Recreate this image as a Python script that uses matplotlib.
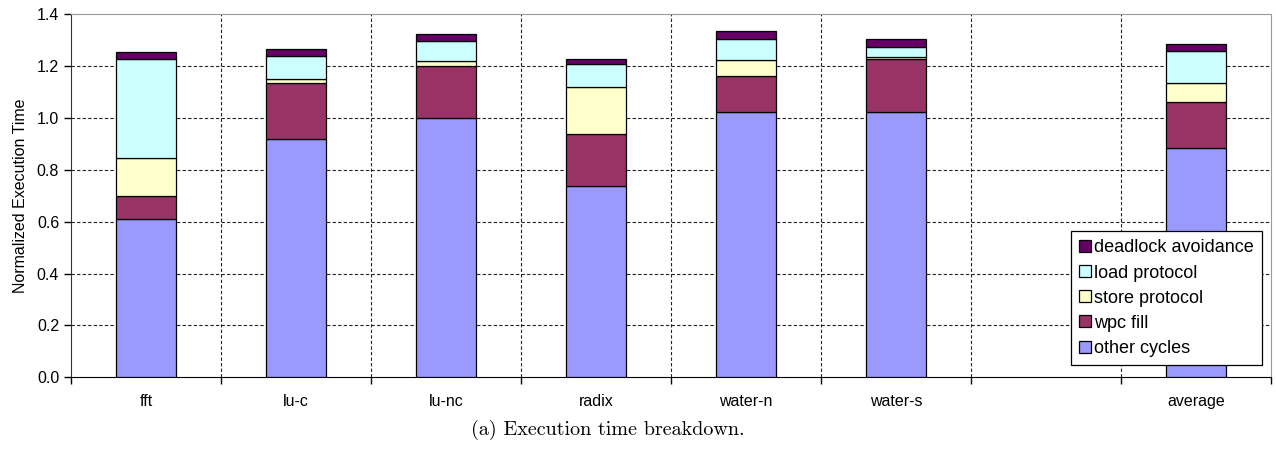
import matplotlib.pyplot as plt
import numpy as np

# benchmark names (slot 6 is left empty in the original)
categories = ['fft', 'lu-c', 'lu-nc', 'radix', 'water-n', 'water-s', '', 'average']

# stacked segments, bottom to top
other_cycles = [0.609, 0.917, 1.000, 0.736, 1.021, 1.022, 0.0, 0.885]
wpc_fill = [0.091, 0.216, 0.200, 0.200, 0.141, 0.206, 0.0, 0.175]
store_protocol = [0.145, 0.017, 0.018, 0.184, 0.060, 0.008, 0.0, 0.073]
load_protocol = [0.380, 0.089, 0.079, 0.086, 0.080, 0.037, 0.0, 0.123]
deadlock_avoidance = [0.027, 0.026, 0.025, 0.021, 0.032, 0.031, 0.0, 0.027]

series = [
    ('other cycles', other_cycles, '#9999FF'),
    ('wpc fill', wpc_fill, '#993366'),
    ('store protocol', store_protocol, '#FFFFCC'),
    ('load protocol', load_protocol, '#CCFFFF'),
    ('deadlock avoidance', deadlock_avoidance, '#660066'),
]

plt.rcParams['font.family'] = ['Liberation Sans', 'DejaVu Sans']

fig = plt.figure(figsize=(12.76, 4.55), dpi=100)
ax = fig.add_axes([71 / 1276, 1 - 377.3 / 455, 1200 / 1276, (377.3 - 14) / 455])

x = np.arange(len(categories))
bottom = np.zeros(len(categories))
handles = []
for name, vals, color in series:
    vals = np.array(vals)
    # skip the empty slot so no zero-height outline is drawn
    mask = vals > 0
    h = ax.bar(x[mask], vals[mask], 0.4, bottom=bottom[mask], color=color,
               edgecolor='black', linewidth=0.9, label=name, zorder=3)
    handles.append(h)
    bottom += vals

ax.set_xlim(-0.5, len(categories) - 0.5)
ax.set_ylim(0, 1.4)
ax.set_yticks(np.arange(0, 1.41, 0.2))
ax.yaxis.set_major_formatter(plt.FormatStrFormatter('%.1f'))
ax.set_xticks(x)
ax.set_xticklabels(categories)
ax.set_xticks(np.arange(-0.5, len(categories), 1.0), minor=True)

ax.tick_params(axis='x', which='major', length=0, pad=12, labelsize=11.5)
ax.tick_params(axis='x', which='minor', length=5, direction='out', width=1)
ax.tick_params(axis='y', length=5, direction='out', width=1, labelsize=11.5)

# dashed grid: horizontal at y ticks, vertical at slot separators
for yv in np.arange(0.2, 1.3, 0.2):
    ax.axhline(yv, color='#222222', linestyle=(0, (3, 2)), linewidth=0.8, zorder=1)
for xv in np.arange(0.5, len(categories) - 1, 1.0):
    ax.axvline(xv, color='#222222', linestyle=(0, (3, 2)), linewidth=0.8, zorder=1)

ax.spines['top'].set_color('#999999')
ax.spines['right'].set_color('#999999')
ax.spines['left'].set_color('#333333')
ax.spines['bottom'].set_color('#000000')

ax.set_ylabel('Normalized Execution Time', fontsize=11.5, labelpad=6)

leg = ax.legend(handles[::-1], [s[0] for s in series][::-1],
                loc='lower right', bbox_to_anchor=(1262 / 1276, 1 - 365 / 455),
                bbox_transform=fig.transFigure, borderaxespad=0,
                fontsize=13, fancybox=False, framealpha=1, edgecolor='black',
                handlelength=0.65, handleheight=0.65, handletextpad=0.2,
                labelspacing=0.45, borderpad=0.45)
leg.get_frame().set_linewidth(0.9)
leg.set_zorder(5)

fig.text(608 / 1276, 1 - 430 / 455, '(a) Execution time breakdown.',
         family='cmr10', fontsize=14.5, ha='center', va='center')

fig.savefig('out.png', dpi=100)
